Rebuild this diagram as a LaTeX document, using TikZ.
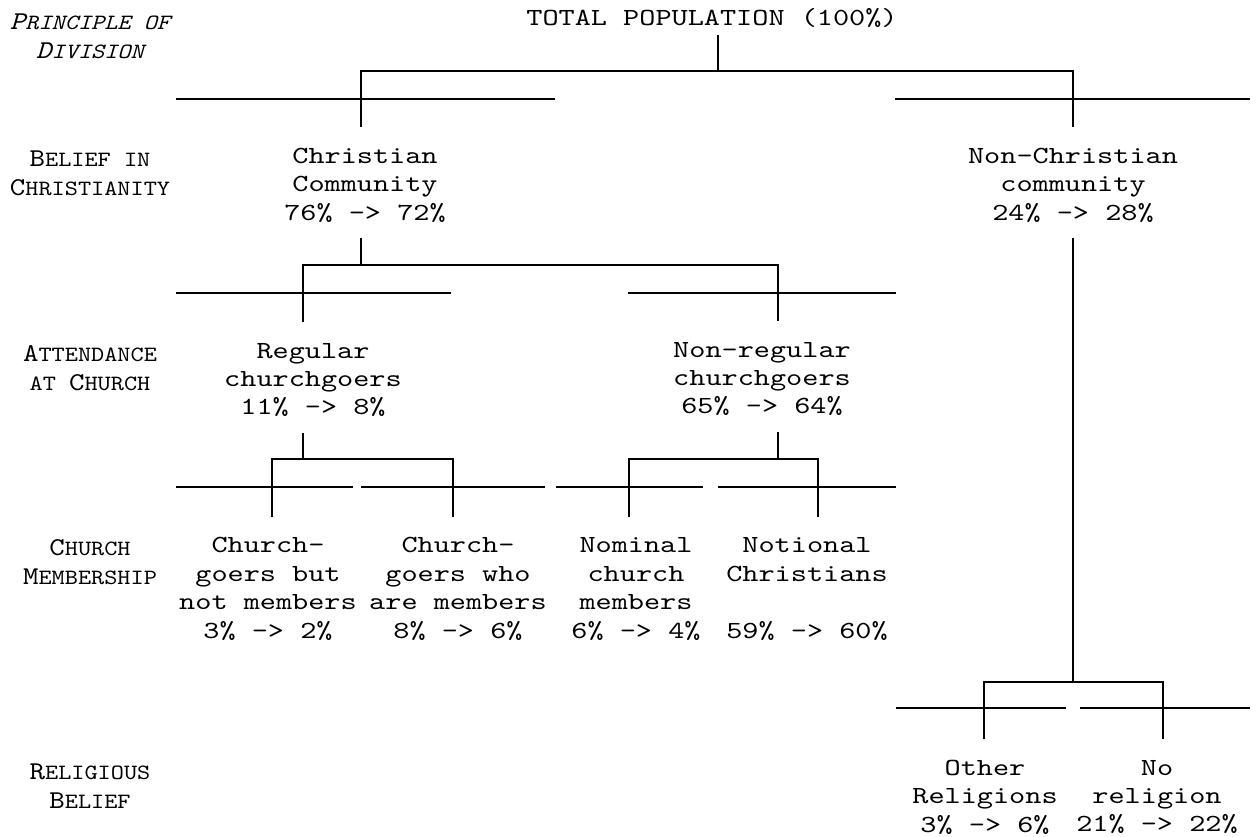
\documentclass[tikz,border=0pt]{standalone}
\usepackage{fontspec}
\newfontfamily\typew{lmmono10-regular.otf}[FakeStretch=1.25]
\newfontfamily\labf{lmmono10-regular.otf}[FakeStretch=1.15, ItalicFont=lmmono10-italic.otf]

% fake small capitals: big initial, rest smaller
\newcommand{\scap}[2]{{\fontsize{14.6}{16.5}\selectfont #1}#2}

\tikzset{
  grp/.style={font=\typew\fontsize{14}{16.2}\selectfont, align=center, inner sep=0pt, outer sep=0pt},
  lvl/.style={font=\labf\fontsize{12.4}{16.5}\selectfont, align=center, inner sep=0pt},
  tree/.style={line width=1.6pt}
}

\begin{document}
\begin{tikzpicture}[x=0.02cm, y=-0.02cm]
  \useasboundingbox (0,0) rectangle (1258,837);

  % junctions and bar ends
  \coordinate (j0) at (718,71);
  \coordinate (b1l) at (361,71);
  \coordinate (b1r) at (1073,71);
  \coordinate (j1) at (361,265);
  \coordinate (b2l) at (303,265);
  \coordinate (b2r) at (778,265);
  \coordinate (j2) at (1073,682);
  \coordinate (b3l) at (984,682);
  \coordinate (b3r) at (1163,682);
  \coordinate (j3) at (303,459);
  \coordinate (b4l) at (272,459);
  \coordinate (b4r) at (453,459);
  \coordinate (j4) at (778,459);
  \coordinate (b5l) at (629,459);
  \coordinate (b5r) at (818,459);

  % groups
  \node[grp] (total) at (712,18) {TOTAL POPULATION (100\%)};
  \node[grp] (christ) at (365,185) {Christian\\Community\\76\% -> 72\%};
  \node[grp] (nonchrist) at (1073,185) {Non-Christian\\community\\24\% -> 28\%};
  \node[grp] (regular) at (313,380) {Regular\\churchgoers\\11\% -> 8\%};
  \node[grp] (nonreg) at (762,379) {Non-regular\\churchgoers\\65\% -> 64\%};
  \node[grp] (cgnot) at (268,589) {Church-\\goers but\\not members\\3\% -> 2\%};
  \node[grp] (cgmem) at (458,589) {Church-\\goers who\\are members\\8\% -> 6\%};
  \node[grp] (nominal) at (636,589) {Nominal\\church\\members\\6\% -> 4\%};
  \node[grp] (notional) at (807,589) {Notional\\Christians\\~\\59\% -> 60\%};
  \node[grp] (other) at (985,797) {Other\\Religions\\3\% -> 6\%};
  \node[grp] (norel) at (1157,797) {No\\religion\\21\% -> 22\%};

  % principles of division
  \node[lvl, font=\labf\fontsize{12.4}{16.5}\selectfont\itshape] (lprin) at (90,36) {\scap{P}{RINCIPLE OF}\\\scap{D}{IVISION}};
  \node[lvl] (lbelief) at (90,173) {\scap{B}{ELIEF IN}\\\scap{C}{HRISTIANITY}};
  \node[lvl] (lattend) at (90,368) {\scap{A}{TTENDANCE}\\AT \scap{C}{HURCH}};
  \node[lvl] (lmember) at (90,562) {\scap{C}{HURCH}\\\scap{M}{EMBERSHIP}};
  \node[lvl] (lrelig) at (90,786) {\scap{R}{ELIGIOUS}\\\scap{B}{ELIEF}};

  % dividing lines
  \draw[tree] (176,99) -- (555,99);
  \draw[tree] (895,99) -- (1250,99);
  \draw[tree] (176,293) -- (451,293);
  \draw[tree] (628,293) -- (896,293);
  \draw[tree] (176,487) -- (353,487);
  \draw[tree] (361,487) -- (545,487);
  \draw[tree] (556,487) -- (703,487);
  \draw[tree] (718,487) -- (896,487);
  \draw[tree] (896,708) -- (1066,708);
  \draw[tree] (1080,708) -- (1250,708);

  % belief
  \draw[tree, shorten <=4.5pt] (total.south -| j0) -- (j0);
  \draw[tree, shorten <=12pt, shorten >=12pt] (christ.north -| b1l) -- (b1l) -- (b1r) -- (nonchrist.north -| b1r);

  % attendance
  \draw[tree, shorten <=9pt] (christ.south -| j1) -- (j1);
  \draw[tree, shorten <=12pt, shorten >=12pt] (regular.north -| b2l) -- (b2l) -- (b2r) -- (nonreg.north -| b2r);

  % membership
  \draw[tree, shorten <=9pt] (regular.south -| j3) -- (j3);
  \draw[tree, shorten <=12pt, shorten >=12pt] (cgnot.north -| b4l) -- (b4l) -- (b4r) -- (cgmem.north -| b4r);
  \draw[tree, shorten <=9pt] (nonreg.south -| j4) -- (j4);
  \draw[tree, shorten <=12pt, shorten >=12pt] (nominal.north -| b5l) -- (b5l) -- (b5r) -- (notional.north -| b5r);

  % religious belief
  \draw[tree, shorten <=9pt] (nonchrist.south -| j2) -- (j2);
  \draw[tree, shorten <=12pt, shorten >=12pt] (other.north -| b3l) -- (b3l) -- (b3r) -- (norel.north -| b3r);
\end{tikzpicture}
\end{document}
